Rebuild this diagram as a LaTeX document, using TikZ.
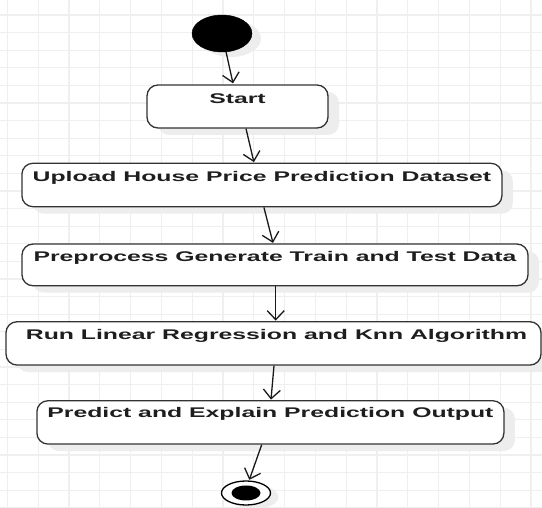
\documentclass[tikz,border=0pt]{standalone}
\usepackage{graphicx}
\usepackage{fontspec}
\setmainfont{Liberation Sans}
\usetikzlibrary{arrows.meta,shapes.geometric,shadows,calc}
\definecolor{gridc}{HTML}{EFEFEF}
\definecolor{linec}{HTML}{333333}
\definecolor{txtc}{HTML}{1E1E1E}
\newcommand{\boxtxt}[1]{\scalebox{1.77}[1]{\fontsize{14}{16}\selectfont\bfseries #1}}
\tikzset{
  actbox/.style={draw=linec, line width=1.3pt, rounded corners=11pt, fill=white,
    inner sep=0pt, minimum width=#1,
    drop shadow={shadow xshift=11pt, shadow yshift=-7pt, fill=black!7, opacity=1}},
  lbl/.style={anchor=base, inner sep=0pt, text=txtc},
  flow/.style={draw=black!90, line width=1.3pt, -{Straight Barb[length=9pt,width=17pt,line width=1.3pt]}},
}
\begin{document}
\begin{tikzpicture}[x=1pt,y=-1pt]
\useasboundingbox (0,0) rectangle (542,508);
\fill[white] (0,0) rectangle (542,508);
% grid
\foreach \k in {0,...,17} {\draw[gridc, line width=1.2pt] ({7.3+30.8*\k},0) -- ({7.3+30.8*\k},508);}
\foreach \k in {0,...,28} {\draw[gridc, line width=1.2pt] (0,{15+17.6*\k}) -- (542,{15+17.6*\k});}

% initial node
\node[ellipse, fill=black, draw=black, minimum width=60pt, minimum height=37pt, inner sep=0pt,
  drop shadow={shadow xshift=9pt, shadow yshift=-5pt, fill=black!7, opacity=1}] (init) at (222,33.5) {};

% activity boxes
\node[actbox=181pt, minimum height=43pt] (start) at (237.5,106.5) {};
\node[actbox=480pt, minimum height=43.4pt] (upload) at (261.9,185) {};
\node[actbox=506pt, minimum height=41.7pt] (prep) at (275,264.9) {};
\node[actbox=535pt, minimum height=43.3pt] (run) at (273.5,343.4) {};
\node[actbox=467pt, minimum height=43.3pt] (pred) at (270.4,422.4) {};

% labels
\node[lbl] (tstart) at ([yshift=-19pt]start.north) {\boxtxt{Start}};
\node[lbl] (tupload) at ([yshift=-18.5pt]upload.north) {\boxtxt{Upload House Price Prediction Dataset}};
\node[lbl] (tprep) at ([yshift=-18.5pt]prep.north) {\boxtxt{Preprocess Generate Train and Test Data}};
\node[lbl] (trun) at ([xshift=3pt,yshift=-18.5pt]run.north) {\boxtxt{Run Linear Regression and Knn Algorithm}};
\node[lbl] (tpred) at ([yshift=-17.8pt]pred.north) {\boxtxt{Predict and Explain Prediction Output}};

% final node
\node[ellipse, draw=black, line width=1.3pt, fill=white, minimum width=49pt, minimum height=24pt, inner sep=0pt,
  drop shadow={shadow xshift=8pt, shadow yshift=-4pt, fill=black!7, opacity=1}] (final) at (246,493) {};
\node[ellipse, fill=black, minimum width=29pt, minimum height=15pt, inner sep=0pt] (finalin) at (final.center) {};

% connectors
\draw[flow] ([xshift=4pt,yshift=0.5pt]init.south) -- ([xshift=-4.5pt,yshift=1pt]start.north);
\draw[flow] ([xshift=8.5pt]start.south) -- ([xshift=-8pt,yshift=0.5pt]upload.north);
\draw[flow] ([xshift=2pt]upload.south) -- ([xshift=-2pt,yshift=0.5pt]prep.north);
\draw[flow] ([xshift=0.7pt]prep.south) -- ([xshift=2.2pt,yshift=0.5pt]run.north);
\draw[flow] ([xshift=0.5pt]run.south) -- ([xshift=0.6pt,yshift=0.5pt]pred.north);
\draw[flow] ([xshift=-8.7pt]pred.south) -- ([xshift=3.3pt,yshift=0.5pt]final.north);
\end{tikzpicture}
\end{document}
